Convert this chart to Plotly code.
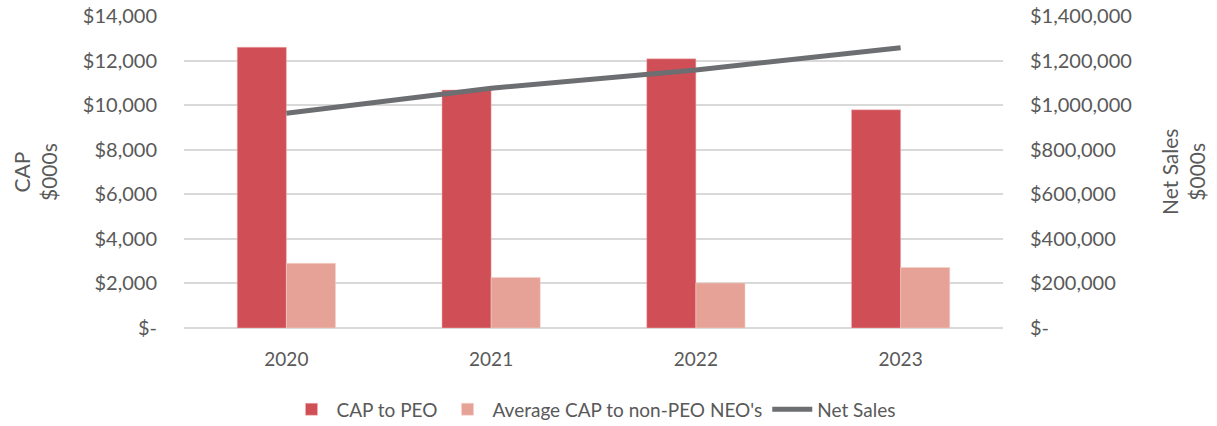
import plotly.graph_objects as go

years = ["2020", "2021", "2022", "2023"]
cap_peo = [12600, 10680, 12080, 9790]
cap_neo = [2900, 2270, 2020, 2720]
net_sales = [964000, 1076000, 1158000, 1258000]

left_ticks = [0, 2000, 4000, 6000, 8000, 10000, 12000, 14000]
right_ticks = [0, 200000, 400000, 600000, 800000, 1000000, 1200000, 1400000]


def money(v):
    return "$-" if v == 0 else "${:,}".format(v)


FONT = "Lato"
GREY = "#595959"

fig = go.Figure()
fig.add_trace(go.Bar(x=years, y=cap_peo, name="CAP to PEO",
                     marker=dict(color="#D04E55", line=dict(width=0.5, color="#F0B8B8"))))
fig.add_trace(go.Bar(x=years, y=cap_neo, name="Average CAP to non-PEO NEO's",
                     marker=dict(color="#E6A296", line=dict(width=0.5, color="#F5D5CF"))))
fig.add_trace(go.Scatter(x=years, y=net_sales, name="Net Sales", yaxis="y2",
                         mode="lines", line=dict(color="#6D6E71", width=5)))

PL, PR = 184, 1003

fig.update_layout(
    width=1217, height=426,
    margin=dict(l=PL, r=1217 - PR, t=16, b=98, autoexpand=False),
    paper_bgcolor="white", plot_bgcolor="white",
    font=dict(family=FONT, size=18, color=GREY),
    barmode="group", bargap=0.52, bargroupgap=0,
    xaxis=dict(showgrid=False, showline=False, ticks="", automargin=False,
               tickfont=dict(size=19, color=GREY), ticklabelstandoff=18),
    yaxis=dict(range=[0, 14000], tickvals=left_ticks, ticktext=[money(v) for v in left_ticks],
               showgrid=True, gridcolor="#D9D9D9", gridwidth=1.5, zeroline=True,
               zerolinecolor="#D9D9D9", zerolinewidth=1.5, automargin=False,
               tickfont=dict(size=20, color=GREY), ticks="", ticklabelstandoff=26),
    yaxis2=dict(range=[0, 1400000], overlaying="y", side="right", showgrid=False,
                tickvals=right_ticks, ticktext=[money(v) for v in right_ticks],
                tickfont=dict(size=20, color=GREY), zeroline=False, automargin=False,
                ticks="", ticklabelstandoff=26),
    legend=dict(orientation="h", x=0.5, xanchor="center", y=-0.2, yanchor="top",
                font=dict(size=19, color=GREY), itemwidth=40, traceorder="normal"),
    annotations=[
        dict(text="CAP<br>$000s", xref="paper", yref="paper", x=(35 - PL) / (PR - PL), y=0.5,
             xanchor="center", yanchor="middle", showarrow=False, textangle=-90,
             font=dict(size=21, color=GREY)),
        dict(text="Net Sales<br>$000s", xref="paper", yref="paper", x=(1183 - PL) / (PR - PL), y=0.5,
             xanchor="center", yanchor="middle", showarrow=False, textangle=-90,
             font=dict(size=21, color=GREY)),
    ],
)

fig.write_html("out.html", config={"displayModeBar": False},
               post_script="document.body.style.margin='0';")
